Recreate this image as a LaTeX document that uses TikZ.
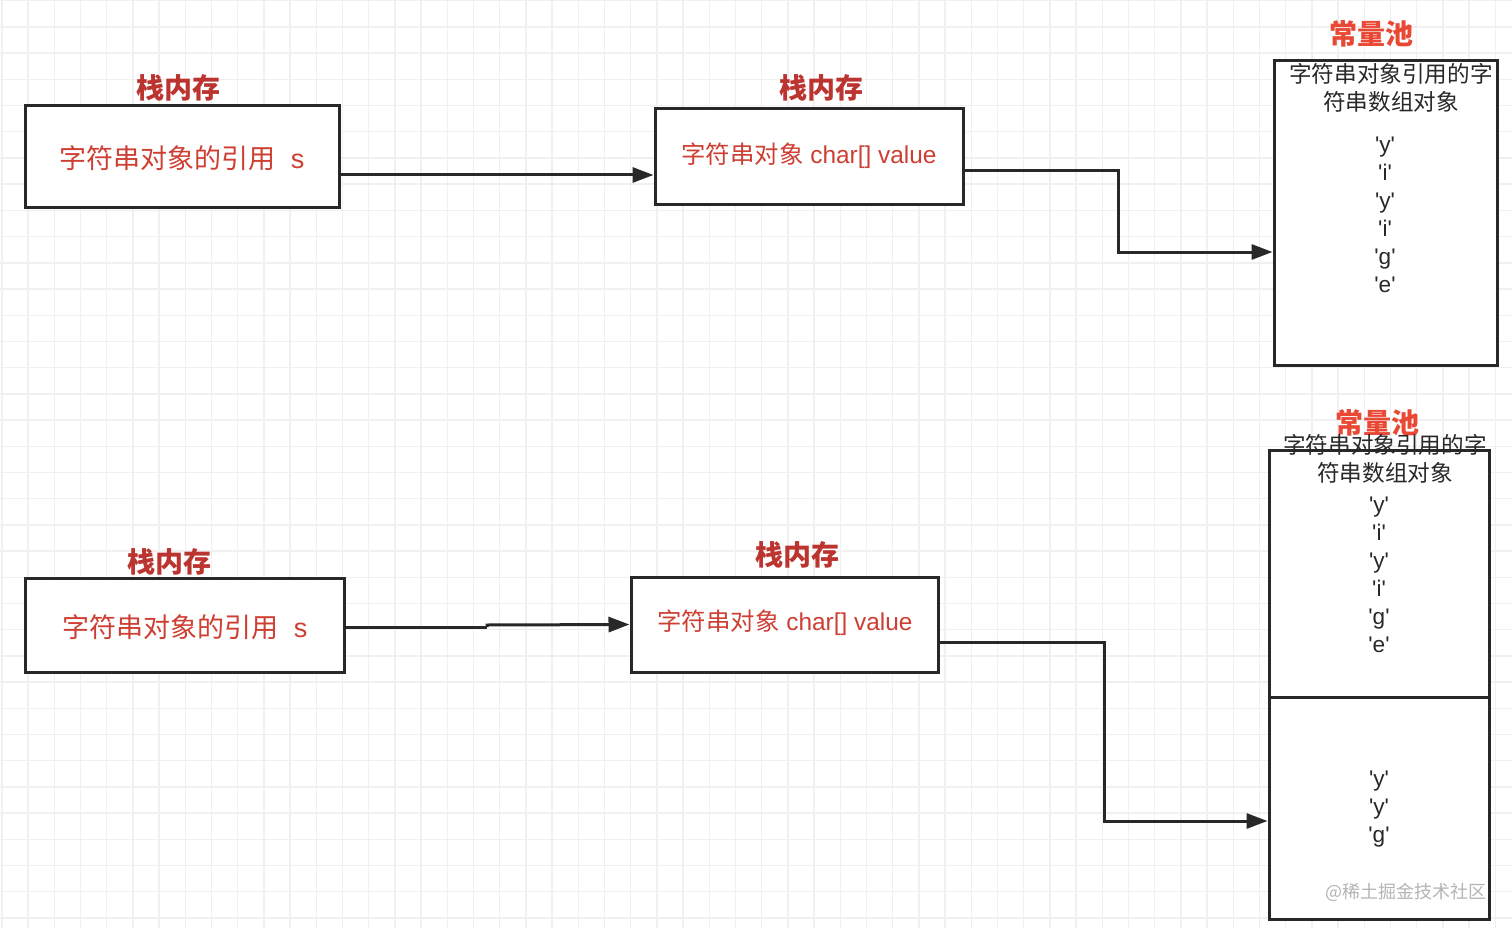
\documentclass[tikz,border=0pt]{standalone}
\usepackage{fontspec}
\setmainfont{Noto Sans CJK SC}
\newfontfamily\lat{Liberation Sans}
\usetikzlibrary{arrows.meta}
\definecolor{gridc}{RGB}{240,240,240}
\definecolor{stackred}{RGB}{188,52,48}
\definecolor{textred}{RGB}{206,62,50}
\definecolor{poolred}{RGB}{232,72,52}
\definecolor{inkc}{RGB}{40,40,40}
\definecolor{wmc}{RGB}{180,180,180}
\newcommand{\q}[1]{{\lat\textquotesingle#1\textquotesingle}}
\tikzset{
  box/.style={draw=inkc, line width=3pt, fill=white, inner sep=0pt},
  lbl/.style={text=stackred, font=\fontsize{28}{30}\selectfont\bfseries, inner sep=0pt},
  pool/.style={text=poolred, font=\fontsize{28}{30}\selectfont\bfseries, inner sep=0pt},
  reftext/.style={text=textred, font=\fontsize{27}{30}\selectfont, inner sep=0pt},
  objtext/.style={text=textred, font=\fontsize{24.4}{28}\selectfont, inner sep=0pt},
  blk/.style={text=inkc, font=\fontsize{22.6}{28}\selectfont, inner sep=0pt, align=center},
  conn/.style={draw=inkc, line width=3pt, -{Triangle[length=21pt,width=15pt]}},
}
\begin{document}
\begin{tikzpicture}[x=1pt,y=-1pt]
\useasboundingbox (0,0) rectangle (1512,928);
\fill[white] (0,0) rectangle (1512,928);
\foreach \i in {0,...,57} \draw[gridc, line width=1.4pt] ({1.8+26.2*\i},0) -- ({1.8+26.2*\i},928);
\foreach \j in {0,...,35} \draw[gridc, line width=1.4pt] (0,{0.8+26.2*\j}) -- (1512,{0.8+26.2*\j});

% top row
\node[box, minimum width=314pt, minimum height=102pt] (b1) at (182,157) {};
\node[reftext] (t1) at (182,158) {字符串对象的引用{\lat\ \ s}};
\node[lbl] (l1) at (178,88) {栈内存};
\node[box, minimum width=308pt, minimum height=96pt] (b2) at (809,157) {};
\node[objtext] (t2) at (809,156) {字符串对象{\lat\ char[] value}};
\node[lbl] (l2) at (821,88) {栈内存};
\node[box, minimum width=223pt, minimum height=304pt] (p1) at (1385.5,213) {};
\node[pool] (pl1) at (1371,34) {常量池};
\node[blk] (h1) at (1391,88) {字符串对象引用的字\\符串数组对象};
\node[blk] (c1) at (1385,215) {\q{y}\\\q{i}\\\q{y}\\\q{i}\\\q{g}\\\q{e}};

\draw[conn] ([yshift=-18pt]b1.east) -- ([yshift=-18pt]b2.west);
\draw[conn] ([yshift=-14pt]b2.east) -| (1118,252) -- ([yshift=-39pt]p1.west);

% bottom row
\node[box, minimum width=319pt, minimum height=94pt] (b3) at (184.5,625) {};
\node[reftext] (t3) at (185,627) {字符串对象的引用{\lat\ \ s}};
\node[lbl] (l3) at (169,562) {栈内存};
\node[box, minimum width=307pt, minimum height=95pt] (b4) at (784.5,624.5) {};
\node[objtext] (t4) at (785,623) {字符串对象{\lat\ char[] value}};
\node[lbl] (l4) at (797,555) {栈内存};
\node[box, minimum width=220pt, minimum height=469pt] (p2) at (1379,684.5) {};
\draw[inkc, line width=3pt] (p2.west |- 0,697) -- (p2.east |- 0,697);
\node[pool] (pl2) at (1377,423) {常量池};
\node[blk] (h2) at (1385,459) {字符串对象引用的字\\符串数组对象};
\node[blk] (c2) at (1379,575) {\q{y}\\\q{i}\\\q{y}\\\q{i}\\\q{g}\\\q{e}};
\node[blk] (c3) at (1379,809) {\q{y}\\\q{y}\\\q{g}};
\node[text=wmc, font=\fontsize{18}{20}\selectfont, inner sep=0pt] (wm) at (1406,892) {@稀土掘金技术社区};

\coordinate (j1) at (487,627);
\draw[draw=inkc, line width=3pt] ([yshift=-2pt]b3.east) -- (j1);
\draw[conn] (j1) -- (487,625) -- (b4.west);
\draw[conn] ([yshift=-17.5pt]b4.east) -| (1104,821) -- ([yshift=-136.5pt]p2.west);
\end{tikzpicture}
\end{document}
